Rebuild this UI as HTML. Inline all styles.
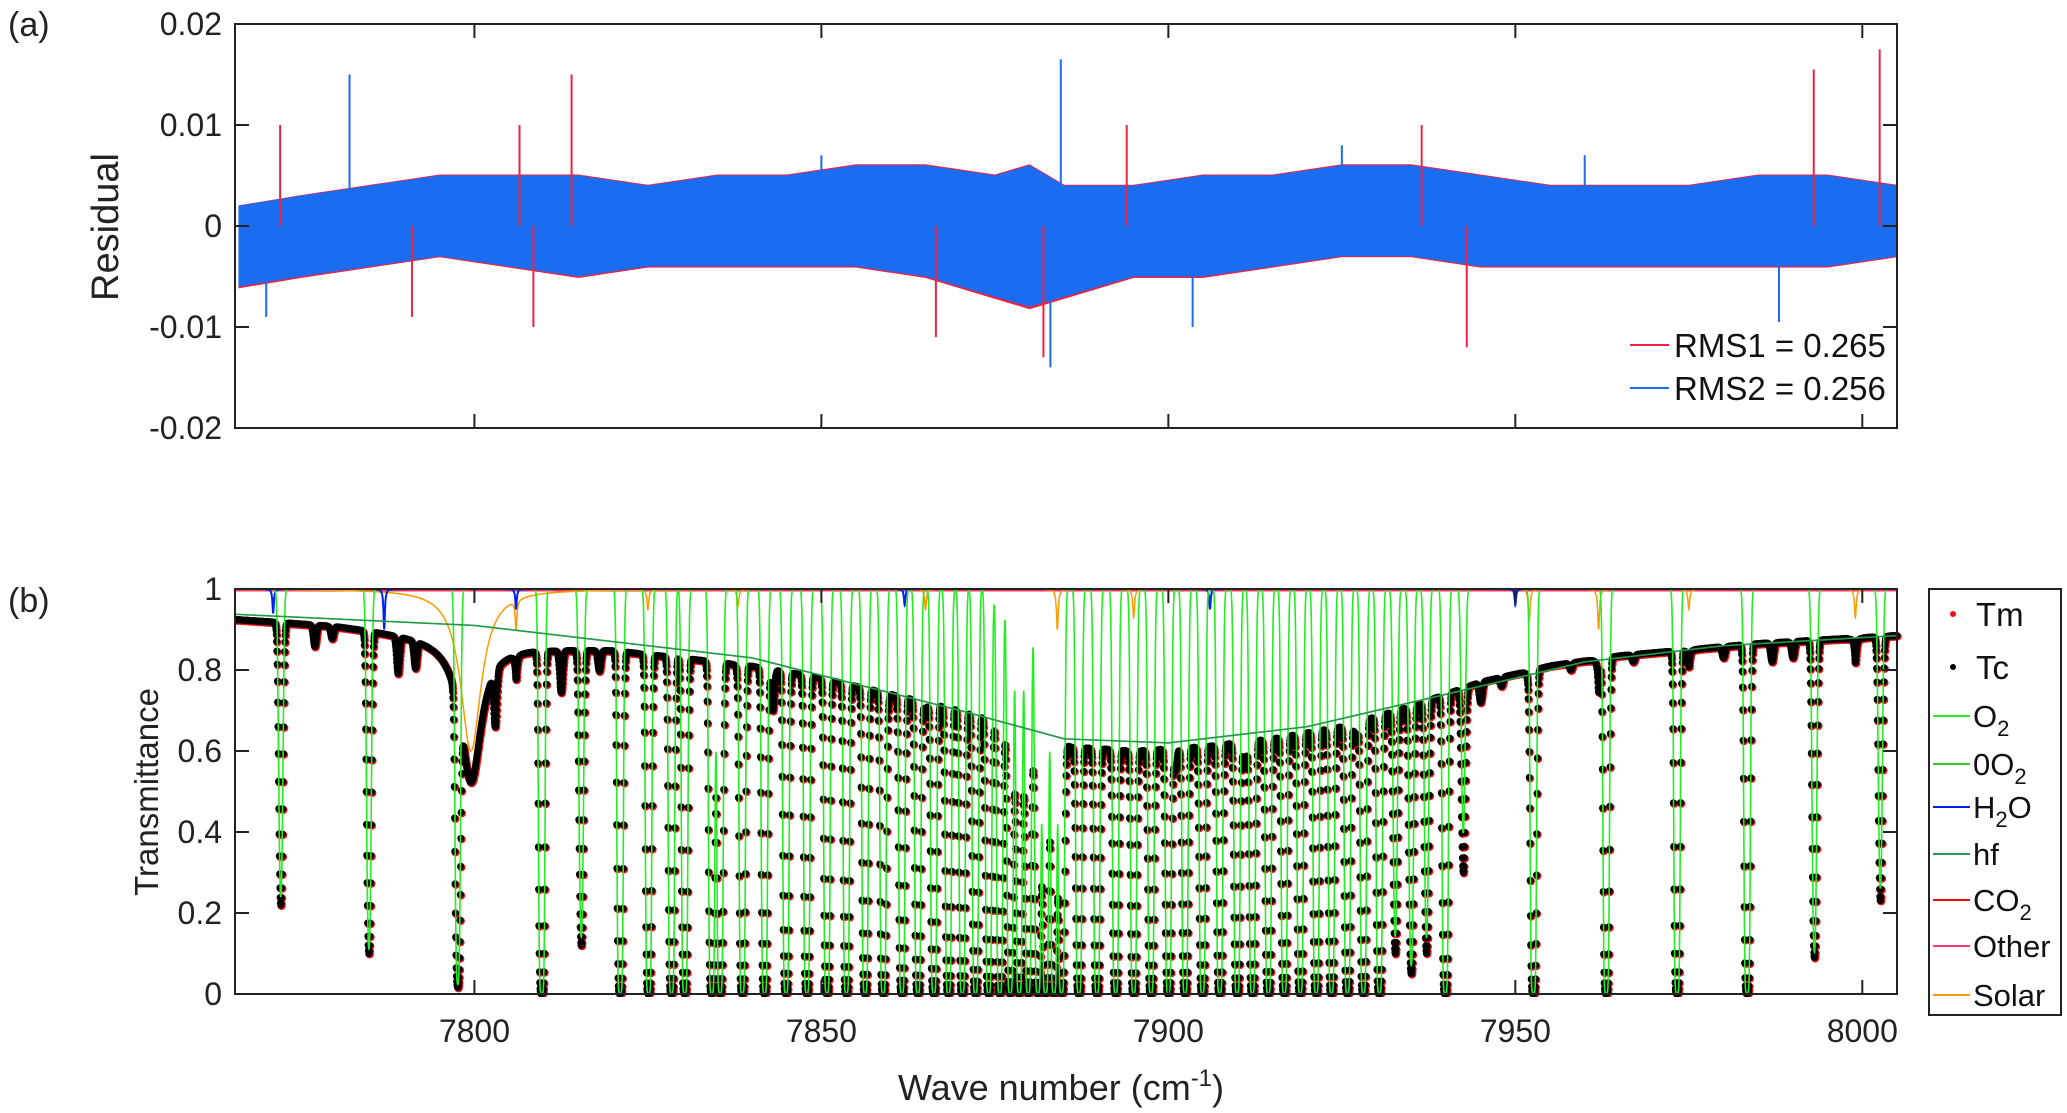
<!DOCTYPE html>
<html><head><meta charset="utf-8"><style>
html,body{margin:0;padding:0;background:#fff;}
svg{display:block;font-family:"Liberation Sans",Arial,sans-serif;}
</style></head><body>
<svg id="chart" width="2067" height="1113" viewBox="0 0 2067 1113" xmlns="http://www.w3.org/2000/svg">
<g id="pa"></g>
<g id="pb"></g>
</svg>
<script>
// ---------- data ----------
const xTicks = [7800, 7850, 7900, 7950, 8000];
const xTickLabels = ["7800", "7850", "7900", "7950", "8000"];
const resTicks = [-0.02, -0.01, 0, 0.01, 0.02];
const resTickLabels = ["-0.02", "-0.01", "0", "0.01", "0.02"];
const trTicks = [0, 0.2, 0.4, 0.6, 0.8, 1];
const trTickLabels = ["0", "0.2", "0.4", "0.6", "0.8", "1"];

// residual band envelope (wavenumber, upper, lower)
const envX = [7766,7775,7785,7795,7805,7815,7825,7835,7845,7855,7865,7875,7880,7885,7895,7905,7915,7925,7935,7945,7955,7965,7975,7985,7995,8005];
const envUp = [0.002,0.003,0.004,0.005,0.005,0.005,0.004,0.005,0.005,0.006,0.006,0.005,0.006,0.004,0.004,0.005,0.005,0.006,0.006,0.005,0.004,0.004,0.004,0.005,0.005,0.004];
const envLo = [-0.006,-0.005,-0.004,-0.003,-0.004,-0.005,-0.004,-0.004,-0.004,-0.004,-0.005,-0.007,-0.008,-0.007,-0.005,-0.005,-0.004,-0.003,-0.003,-0.004,-0.004,-0.004,-0.004,-0.004,-0.004,-0.003];
// residual spikes
const spikeRedX = [7772,7806.5,7814,7894,7936.5,7993,8002.5,7943,7791,7808.5,7866.5,7882];
const spikeRedV = [0.010,0.010,0.015,0.010,0.010,0.0155,0.0175,-0.012,-0.009,-0.010,-0.011,-0.013];
const spikeBlueX = [7782,7884.5,7883,7988,7903.5,7770,7850,7925,7960];
const spikeBlueV = [0.015,0.0165,-0.014,-0.0095,-0.010,-0.009,0.007,0.008,0.007];

// transmittance continuum for measured dots
const contX = [7765,7780,7790,7800,7810,7820,7830,7840,7850,7860,7870,7878,7886,7895,7905,7915,7925,7935,7945,7955,7965,7975,7985,7995,8005];
const contT = [0.926,0.91,0.89,0.87,0.855,0.85,0.83,0.81,0.78,0.74,0.70,0.66,0.61,0.60,0.61,0.63,0.66,0.71,0.77,0.81,0.835,0.85,0.865,0.875,0.885];
// smooth green (hf) line
const hfX = [7765,7800,7840,7870,7885,7900,7920,7940,7960,7980,8005];
const hfT = [0.938,0.91,0.83,0.70,0.63,0.62,0.66,0.74,0.82,0.86,0.885];
// O2 line centres and minimum transmittance of the dots
const lineX = [7772.1,7784.8,7797.6,7809.7,7815.4,7821.0,7825.1,7828.4,7830.3,7834.2,7835.4,7838.6,7841.8,7844.9,7847.9,7850.8,7853.6,7856.3,7858.9,7861.6,7863.9,7866.2,7868.3,7870.3,7872.2,7874.1,7875.7,7877.2,7878.5,7879.8,7881.2,7882.3,7883.5,7884.6,7887.1,7889.7,7892.4,7895.0,7897.5,7900.0,7902.4,7904.9,7907.4,7909.9,7912.1,7914.4,7916.7,7919.0,7921.3,7923.5,7925.8,7928.1,7930.4,7932.7,7935.0,7937.2,7939.9,7942.5,7952.6,7963.1,7973.3,7983.4,7993.1,8002.6];
const lineMin = [0.22,0.1,0.02,0,0.12,0,0,0,0,0,0,0,0,0,0,0,0,0,0,0,0,0,0,0,0,0,0,0,0,0,0,0,0,0,0,0,0,0,0,0,0,0,0,0,0,0,0,0,0,0,0,0,0,0.1,0.05,0.1,0,0.3,0,0,0,0,0.09,0.23];
// weak lines (dots only)
const weakX = [7777,7779.5,7789,7791.5,7803,7812.5,7818,7843,7859.5,7901,7911,7927,7945,7948,7958,7967,7980,7987,7990];
const weakMin = [0.86,0.88,0.8,0.82,0.72,0.75,0.8,0.7,0.72,0.55,0.56,0.62,0.72,0.76,0.8,0.82,0.83,0.82,0.83];
// solar lines
const solX = [7799.5,7806,7825,7884,7895,7952,7962,7975,7999,7838,7865];
const solDepth = [0.4,0.07,0.05,0.1,0.07,0.08,0.1,0.05,0.07,0.04,0.05];
const solWidth = [1.8,0.15,0.15,0.15,0.15,0.15,0.15,0.15,0.15,0.15,0.15];
// water lines
const h2oX = [7771,7787,7806,7862,7906,7950];
const h2oDepth = [0.06,0.1,0.05,0.04,0.05,0.04];

// ---------- helpers ----------
const NS = "http://www.w3.org/2000/svg";
const X0 = 235, X1 = 1897, WMIN = 7765.5, WMAX = 8005;
function sx(w){ return X0 + (w - WMIN) / (WMAX - WMIN) * (X1 - X0); }
const A = {top:24, bot:428}, B = {top:589, bot:994};
function ya(v){ return A.bot - (v + 0.02) / 0.04 * (A.bot - A.top); }
function yb(v){ return B.bot - v * (B.bot - B.top); }
function el(tag, attrs, parent){ const e = document.createElementNS(NS, tag); for (const k in attrs) e.setAttribute(k, attrs[k]); parent.appendChild(e); return e; }
function interp(xs, ys, x){ if (x <= xs[0]) return ys[0]; for (let i = 1; i < xs.length; i++){ if (x <= xs[i]){ const t = (x - xs[i-1]) / (xs[i] - xs[i-1]); return ys[i-1] + t * (ys[i] - ys[i-1]); } } return ys[ys.length-1]; }
const SG = 0.33;
function o2tau(w){ let s = 0; for (let i = 0; i < lineX.length; i++){ const d = (w - lineX[i]) / SG; if (Math.abs(d) > 6) continue; const c = interp(contX, contT, lineX[i]); const t0 = lineMin[i] <= 0.005 ? 7 : -Math.log(lineMin[i] / c); s += t0 * Math.exp(-d*d); } return s; }
function weakTau(w){ let s = 0; for (let i = 0; i < weakX.length; i++){ const d = (w - weakX[i]) / 0.3; if (Math.abs(d) > 6) continue; const c = interp(contX, contT, weakX[i]); s += -Math.log(weakMin[i] / c) * Math.exp(-d*d); } return s; }
function solar(w){ let s = 1; for (let i = 0; i < solX.length; i++){ const d = (w - solX[i]) / solWidth[i]; s -= solDepth[i] / (1 + d*d); } return s; }
function h2o(w){ let s = 1; for (let i = 0; i < h2oX.length; i++){ const d = (w - h2oX[i]) / 0.12; s -= h2oDepth[i] / (1 + d*d); } return s; }

const pa = document.getElementById('pa'), pb = document.getElementById('pb');

// ---------- panel (a) ----------
const clipA = el('clipPath', {id:'ca'}, pa); el('rect', {x:X0, y:A.top, width:X1-X0, height:A.bot-A.top}, clipA);
const ga = el('g', {'clip-path':'url(#ca)'}, pa);
let redPts = [], bluePts = [];
for (let i = 0; i < envX.length; i++) redPts.push(sx(envX[i]) + ',' + ya(envUp[i] * 1.02));
for (let i = envX.length - 1; i >= 0; i--) redPts.push(sx(envX[i]) + ',' + ya(envLo[i] * 1.03));
for (let i = 0; i < envX.length; i++) bluePts.push(sx(envX[i]) + ',' + ya(envUp[i]));
for (let i = envX.length - 1; i >= 0; i--) bluePts.push(sx(envX[i]) + ',' + ya(envLo[i]));
const bandR = el('polygon', {points:redPts.join(' '), fill:'#ee2244'}, ga);


const bandB = el('polygon', {points:bluePts.join(' '), fill:'#1a6cf0'}, ga);


for (let i = 0; i < spikeRedX.length; i++){
  const s = el('line', {x1:sx(spikeRedX[i]), x2:sx(spikeRedX[i]), y1:ya(0), y2:ya(spikeRedV[i]), stroke:'#ee2244', 'stroke-width':2}, ga);
  
  
}
for (let i = 0; i < spikeBlueX.length; i++){
  const s = el('line', {x1:sx(spikeBlueX[i]), x2:sx(spikeBlueX[i]), y1:ya(0), y2:ya(spikeBlueV[i]), stroke:'#1a6cf0', 'stroke-width':2}, ga);
  
  
}
function axesBox(parent, top, bot, name){
  const r = el('rect', {x:X0, y:top, width:X1-X0, height:bot-top, fill:'none', stroke:'#222', 'stroke-width':2}, parent);
  
  
  xTicks.forEach(t => { el('line', {x1:sx(t), x2:sx(t), y1:bot, y2:bot-14, stroke:'#222', 'stroke-width':2}, parent); el('line', {x1:sx(t), x2:sx(t), y1:top, y2:top+14, stroke:'#222', 'stroke-width':2}, parent); });
}
axesBox(pa, A.top, A.bot, 'residual-axes-box');
resTicks.forEach((t, i) => {
  el('line', {x1:X0, x2:X0+14, y1:ya(t), y2:ya(t), stroke:'#222', 'stroke-width':2}, pa);
  el('line', {x1:X1, x2:X1-14, y1:ya(t), y2:ya(t), stroke:'#222', 'stroke-width':2}, pa);
  const tx = el('text', {x:222, y:ya(t)+11, 'text-anchor':'end', 'font-size':32, fill:'#222'}, pa);
  tx.textContent = resTickLabels[i];
  
  
});
</script>
<script>
(function(){
  const pa = document.getElementById('pa');
  pa.insertAdjacentHTML('beforeend',
  '<text x="8" y="36" font-size="34" fill="#222">(a)</text>' +
  '<text transform="translate(118,227) rotate(-90)" text-anchor="middle" font-size="38" fill="#222">Residual</text>' +
  '<g>' +
  '<line x1="1630" x2="1669" y1="345" y2="345" stroke="#ee2244" stroke-width="2"/>' +
  '<text x="1674" y="357" font-size="33" fill="#111">RMS1 = 0.265</text>' +
  '<line x1="1630" x2="1669" y1="388" y2="388" stroke="#1a6cf0" stroke-width="2"/>' +
  '<text x="1674" y="400" font-size="33" fill="#111">RMS2 = 0.256</text></g>');
})();
</script>
<script>
(function(){
const pb = document.getElementById('pb');
const clipB = el('clipPath', {id:'cb'}, pb); el('rect', {x:X0, y:B.top-3, width:X1-X0+6, height:B.bot-B.top+6}, clipB);
const gb = el('g', {'clip-path':'url(#cb)'}, pb);
const step = 0.02;
let o2d = '', sold = '', h2od = '', hfd = '', redDots = '', blackDots = '';
let k = 0;
for (let w = WMIN; w <= WMAX + 1e-9; w += step, k++){
  const tau = o2tau(w);
  const o2 = Math.exp(-tau);
  const so = solar(w);
  const x = sx(w).toFixed(1);
  o2d += (k ? 'L' : 'M') + x + ' ' + yb(o2).toFixed(1);
  sold += (k ? 'L' : 'M') + x + ' ' + yb(so).toFixed(1);
  h2od += (k ? 'L' : 'M') + x + ' ' + yb(h2o(w)).toFixed(1);
  hfd += (k ? 'L' : 'M') + x + ' ' + yb(interp(hfX, hfT, w)).toFixed(1);
  if (k % 2 === 0){
    const T = interp(contX, contT, w) * o2 * so * Math.exp(-weakTau(w));
    const y = yb(T);
    redDots += 'M' + (sx(w)-3.2).toFixed(1) + ' ' + (y+1).toFixed(1) + 'a4 4 0 1 0 8 0a4 4 0 1 0 -8 0';
    blackDots += 'M' + (sx(w)-3.6).toFixed(1) + ' ' + y.toFixed(1) + 'a3.6 3.6 0 1 0 7.2 0a3.6 3.6 0 1 0 -7.2 0';
  }
}
const other = el('line', {x1:X0, x2:X1, y1:yb(1)+1, y2:yb(1)+1, stroke:'#ff3366', 'stroke-width':3}, gb);


const sol = el('path', {d:sold, fill:'none', stroke:'#ff9900', 'stroke-width':1.5}, gb);


const wat = el('path', {d:h2od, fill:'none', stroke:'#0022ee', 'stroke-width':2}, gb);


const rd = el('path', {d:redDots, fill:'#ee1111'}, gb);


const bd = el('path', {d:blackDots, fill:'#000'}, gb);


const o2p = el('path', {d:o2d, fill:'none', stroke:'#22ee22', 'stroke-width':1.6}, gb);


const hfp = el('path', {d:hfd, fill:'none', stroke:'#229944', 'stroke-width':1.6}, gb);


axesBox(pb, B.top, B.bot, 'transmittance-axes-box');
trTicks.forEach((t, i) => {
  el('line', {x1:X0, x2:X0+14, y1:yb(t), y2:yb(t), stroke:'#222', 'stroke-width':2}, pb);
  el('line', {x1:X1, x2:X1-14, y1:yb(t), y2:yb(t), stroke:'#222', 'stroke-width':2}, pb);
  const tx = el('text', {x:222, y:yb(t)+11, 'text-anchor':'end', 'font-size':32, fill:'#222'}, pb);
  tx.textContent = trTickLabels[i];
  
  
});
xTicks.forEach((t, i) => {
  const tx = el('text', {x:sx(t), y:1042, 'text-anchor':'middle', 'font-size':32, fill:'#222'}, pb);
  tx.textContent = xTickLabels[i];
  
  
});
pb.insertAdjacentHTML('beforeend',
 '<text x="8" y="612" font-size="34" fill="#222">(b)</text>' +
 '<text transform="translate(158,792) rotate(-90)" text-anchor="middle" font-size="33" fill="#222">Transmittance</text>' +
 '<text x="1061" y="1100" text-anchor="middle" font-size="36" fill="#222">Wave number (cm<tspan dy="-14" font-size="24">-1</tspan><tspan dy="14">)</tspan></text>');
const leg = el('g', {}, pb);


el('rect', {x:1929, y:589, width:132, height:426, fill:'#fff', stroke:'#222', 'stroke-width':2}, leg);
const legNames = ['O2','0O2','H2O','hf','CO2','Other','Solar'];
const legColors = ['#22ee22','#33cc33','#0022ee','#229955','#dd1111','#ff3377','#ff9900'];
const legY = [716,764,807,854,900,946,995];
const dotsY = [614,667];
el('circle', {cx:1953, cy:dotsY[0], r:3, fill:'#ee1111'}, leg);
el('circle', {cx:1953, cy:dotsY[1], r:3, fill:'#000'}, leg);
leg.insertAdjacentHTML('beforeend',
 '<text x="1976" y="626" font-size="33" fill="#111">Tm</text>' +
 '<text x="1976" y="679" font-size="33" fill="#111">Tc</text>');
const labelsHtml = [
 'O<tspan font-size="22" dy="9">2</tspan>',
 '0O<tspan font-size="22" dy="9">2</tspan>',
 'H<tspan font-size="22" dy="9">2</tspan><tspan dy="-9">O</tspan>',
 'hf',
 'CO<tspan font-size="22" dy="9">2</tspan>',
 'Other',
 'Solar'];
for (let i = 0; i < legNames.length; i++){
  const ln = el('line', {x1:1933, x2:1970, y1:legY[i], y2:legY[i], stroke:legColors[i], 'stroke-width':2}, leg);
  
  
  leg.insertAdjacentHTML('beforeend', '<text x="1973" y="' + (legY[i]+11) + '" font-size="31" fill="#111">' + labelsHtml[i] + '</text>');
}
})();
</script>
</body></html>
